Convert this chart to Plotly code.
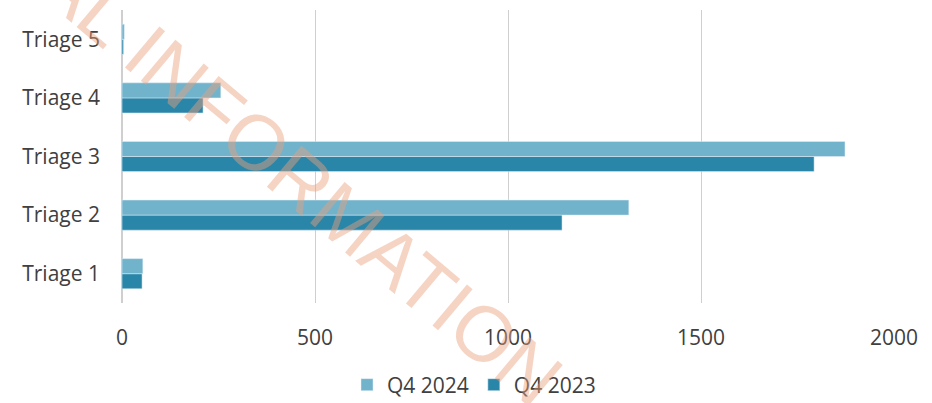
import plotly.graph_objects as go

categories = ["Triage 1", "Triage 2", "Triage 3", "Triage 4", "Triage 5"]
q4_2024 = [54, 1313, 1873, 256, 6]
q4_2023 = [52, 1140, 1793, 210, 4]
x_ticks = [0, 500, 1000, 1500, 2000]

W, H = 932, 403
ml, mr, mt, mb = 122, 38, 10, 100

fig = go.Figure()
fig.add_trace(go.Bar(y=categories, x=q4_2023, name="Q4 2023", orientation="h",
                     marker=dict(color="#2a86a8")))
fig.add_trace(go.Bar(y=categories, x=q4_2024, name="Q4 2024", orientation="h",
                     marker=dict(color="#72b3cc")))

def px(xp, yp):
    return (xp - ml) / (W - ml - mr), (H - mb - yp) / (H - mt - mb)

wx, wy = px(202, 97)
fig.add_annotation(text="OFFICIAL INFORMATION", xref="paper", yref="paper", x=wx, y=wy,
                   xanchor="center", yanchor="middle",
                   showarrow=False, textangle=40,
                   font=dict(family="Liberation Sans", size=78, color="rgba(235,160,125,0.45)"))

fig.update_layout(
    width=W, height=H, margin=dict(l=ml, r=mr, t=mt, b=mb),
    paper_bgcolor="white", plot_bgcolor="white",
    barmode="group", bargap=0.486, bargroupgap=0,
    font=dict(family="Open Sans", size=21, color="#404040"),
    xaxis=dict(range=[0, 2000], tickvals=x_ticks, showgrid=True, gridcolor="#cfcfcf",
               gridwidth=1, zeroline=True, zerolinecolor="#cfcfcf", showline=False,
               ticks="", ticklen=0, ticklabelstandoff=20, tickfont=dict(size=21)),
    yaxis=dict(categoryorder="array", categoryarray=categories, showgrid=False,
               ticks="", ticklabelstandoff=21, tickfont=dict(size=21)),
    legend=dict(orientation="h", xref="container", yref="container",
                x=474 / W, xanchor="center", y=(H - 385) / H, yanchor="middle",
                traceorder="reversed", itemwidth=30, font=dict(size=21)),
    showlegend=True,
)

fig.write_html("out.html")
